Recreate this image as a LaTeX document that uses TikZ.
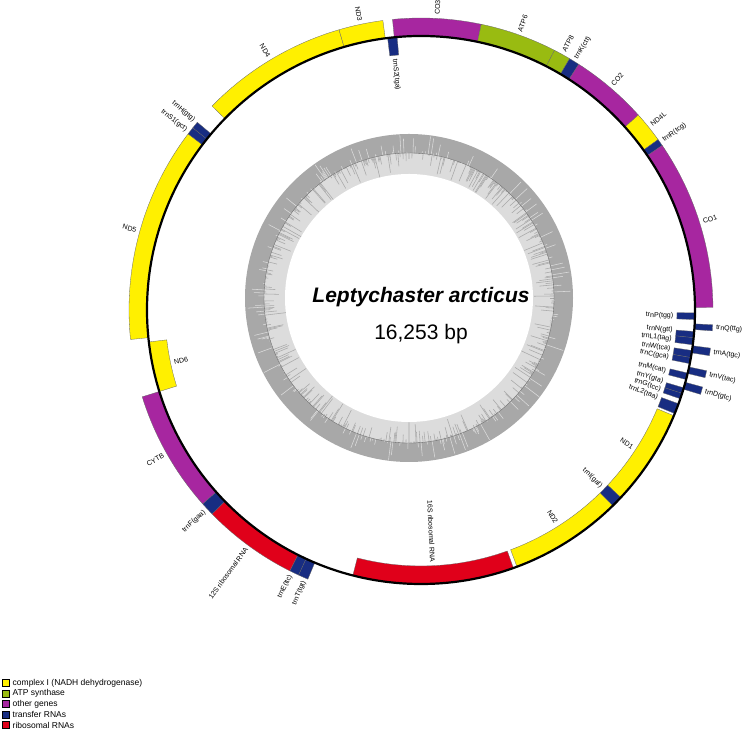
\documentclass[tikz,border=0pt]{standalone}
\usepackage{fontspec}
\setmainfont{Liberation Sans}
\definecolor{cI}{RGB}{255,240,0}
\definecolor{atp}{RGB}{153,187,17}
\definecolor{oth}{RGB}{167,38,160}
\definecolor{trna}{RGB}{24,45,130}
\definecolor{rrna}{RGB}{224,0,26}
\definecolor{gcdark}{RGB}{168,168,168}
\definecolor{gclight}{RGB}{220,220,220}
\tikzset{
  glab/.style={font=\fontsize{7}{7}\selectfont, inner sep=0.5pt},
  legbox/.style={draw=black, line width=0.3pt, minimum size=7pt, inner sep=0pt},
  legtxt/.style={font=\fontsize{8.5}{9}\selectfont, anchor=west, inner sep=0pt},
  blockline/.style={draw=black!60, line width=0.3pt}
}
% #1 optional label angle, #2 a1, #3 a2, #4 side (1 outer, 0 inner), #5 colour, #6 name, #7 label
\newcommand\gene[7][]{%
  \pgfmathsetmacro\gmid{(#2+#3)/2}%
  \if\relax\detokenize{#1}\relax\else\def\gmid{#1}\fi
  \ifnum#4=1 \def\gra{274}\def\grb{292}\def\grl{295}\else\def\gra{256}\def\grb{274}\def\grl{253}\fi
  \pgfmathtruncatemacro\gright{(\gmid>-90 && \gmid<90) ? 1 : 0}%
  \ifnum\gright=1 \let\grot\gmid\else\pgfmathsetmacro\grot{\gmid-180}\fi
  \pgfmathtruncatemacro\gsel{\gright*2+#4}%
  \ifcase\gsel\def\ganc{west}\or\def\ganc{east}\or\def\ganc{east}\or\def\ganc{west}\fi
  \filldraw[fill=#5, blockline] (#2:\gra) arc[start angle=#2, end angle=#3, radius=\gra]
     -- (#3:\grb) arc[start angle=#3, end angle=#2, radius=\grb] -- cycle;
  \node[glab, rotate=\grot, anchor=\ganc] (#6) at (\gmid:\grl) {#7};
}
\begin{document}
\begin{tikzpicture}[x=1pt,y=1pt]
\useasboundingbox (0,0) rectangle (745,733);

% GC content ring
\begin{scope}[shift={(409,435)}]
  \fill[gcdark] (0,0) circle[radius=164];
  \fill[gclight] (0,0) circle[radius=145];
  \fill[white] (0,0) circle[radius=124];
  \pgfmathsetseed{12}
  \foreach \a in {0,0.4,...,359.8}{%
    \pgfmathsetmacro\gv{rnd}%
    \pgfmathsetmacro\gw{rnd}%
    \ifdim\gv pt<0.5pt
      \pgfmathsetmacro\gr{145-21*\gw*\gw}%
      \draw[gcdark, line width=0.55pt] (\a:145) -- (\a:\gr);
    \else\ifdim\gv pt>0.8pt
      \pgfmathsetmacro\gr{145+19*\gw*\gw}%
      \draw[gclight, line width=0.55pt] (\a:145) -- (\a:\gr);
    \fi\fi
  }
  \draw[black!60, line width=0.35pt] (0,0) circle[radius=145];
\end{scope}

% genome map
\begin{scope}[shift={(421,423)}]
  % outer strand
  \gene{106.3}{135.7}{1}{cI}{nd4}{ND4}
  \gene{97.5}{106.3}{1}{cI}{nd3}{ND3}
  \gene{78.1}{95.6}{1}{oth}{co3}{CO3}
  \gene{62.8}{78.1}{1}{atp}{atp6}{ATP6}
  \gene{59.4}{62.8}{1}{atp}{atp8}{ATP8}
  \gene{57.3}{59.4}{1}{trna}{trnK}{trnK(ctt)}
  \gene{41.9}{57.3}{1}{oth}{co2}{CO2}
  \gene{35.7}{41.9}{1}{cI}{nd4l}{ND4L}
  \gene{34.3}{35.7}{1}{trna}{trnR}{trnR(tcg)}
  \gene{0.5}{34.3}{1}{oth}{co1}{CO1}
  \gene{-2.9}{-4.1}{1}{trna}{trnQ}{trnQ(ttg)}
  \gene{-7.5}{-9.0}{1}{trna}{trnA}{trnA(tgc)}
  \gene{-12.0}{-13.4}{1}{trna}{trnV}{trnV(tac)}
  \gene{-15.3}{-16.8}{1}{trna}{trnD}{trnD(gtc)}
  \gene[246.7]{245.2}{247.2}{1}{trna}{trnT}{trnT(tgt)}
  \gene[243.8]{243.3}{245.2}{1}{trna}{trnE}{trnE(ttc)}
  \gene{224.3}{243.3}{1}{rrna}{rrnS}{12S ribosomal RNA}
  \gene{221.6}{224.3}{1}{trna}{trnF}{trnF(gaa)}
  \gene{197.3}{221.6}{1}{oth}{cytb}{CYTB}
  \gene{142.9}{185.8}{1}{cI}{nd5}{ND5}
  \gene[142.5]{141.4}{142.9}{1}{trna}{trnS1}{trnS1(gct)}
  \gene[140.1]{140.0}{141.4}{1}{trna}{trnH}{trnH(gtg)}
  % inner strand
  \gene{95.0}{97.0}{0}{trna}{trnS2}{trnS2(tga)}
  \gene{186.7}{197.3}{0}{cI}{nd6}{ND6}
  \gene{-0.6}{-2.0}{0}{trna}{trnP}{trnP(tgg)}
  \gene[-4.6]{-4.5}{-5.8}{0}{trna}{trnN}{trnN(gtt)}
  \gene[-6.6]{-5.8}{-7.3}{0}{trna}{trnL1}{trnL1(tag)}
  \gene[-8.9]{-8.5}{-10.0}{0}{trna}{trnW}{trnW(tca)}
  \gene[-10.8]{-10.0}{-11.3}{0}{trna}{trnC}{trnC(gca)}
  \gene{-13.3}{-14.7}{0}{trna}{trnM}{trnM(cat)}
  \gene[-16.4]{-16.5}{-17.7}{0}{trna}{trnY}{trnY(gta)}
  \gene[-18.3]{-17.7}{-18.9}{0}{trna}{trnG}{trnG(tcc)}
  \gene[-20.3]{-20.0}{-22.2}{0}{trna}{trnL2}{trnL2(taa)}
  \gene{-22.7}{-43.2}{0}{cI}{nd1}{ND1}
  \gene{-43.2}{-45.6}{0}{trna}{trnI}{trnI(gat)}
  \gene{-45.6}{-69.5}{0}{cI}{nd2}{ND2}
  \gene{-70.3}{-104.4}{0}{rrna}{rrnL}{16S ribosomal RNA}
  % backbone circle
  \draw[line width=2.2pt] (0,0) circle[radius=274];
\end{scope}

% centre text
\node[anchor=base, inner sep=0pt, font=\fontsize{21}{24}\selectfont\bfseries\itshape] (title) at (421,430) {Leptychaster arcticus};
\node[anchor=base, inner sep=0pt, font=\fontsize{21}{24}\selectfont] (len) at (421,393) {16,253 bp};

% legend
\node[legbox, fill=cI]   (l1) at (5.5,50) {};
\node[legbox, fill=atp]  (l2) at (5.5,39.5) {};
\node[legbox, fill=oth]  (l3) at (5.5,29) {};
\node[legbox, fill=trna] (l4) at (5.5,18.5) {};
\node[legbox, fill=rrna] (l5) at (5.5,8) {};
\node[legtxt] (t1) at (12.5,50) {complex I (NADH dehydrogenase)};
\node[legtxt] (t2) at (12.5,39.5) {ATP synthase};
\node[legtxt] (t3) at (12.5,29) {other genes};
\node[legtxt] (t4) at (12.5,18.5) {transfer RNAs};
\node[legtxt] (t5) at (12.5,8) {ribosomal RNAs};
\end{tikzpicture}
\end{document}
